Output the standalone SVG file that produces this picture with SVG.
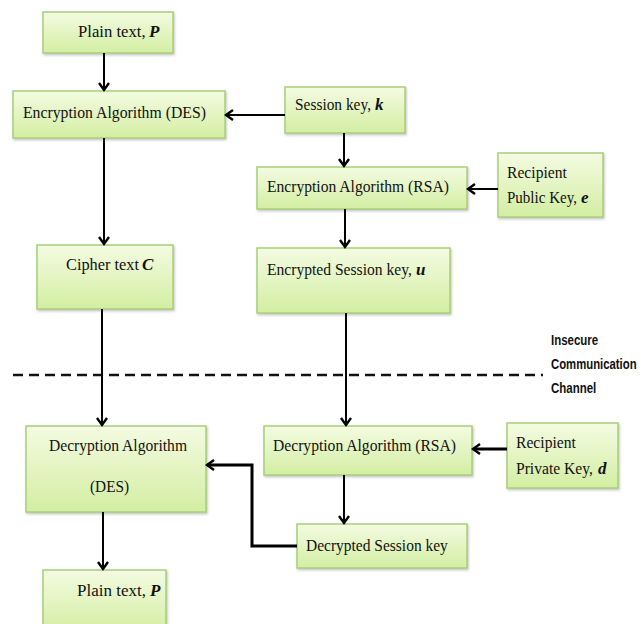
<svg xmlns="http://www.w3.org/2000/svg" width="641" height="624" viewBox="0 0 641 624">
<defs>
<linearGradient id="g" x1="0" y1="0" x2="0" y2="1">
<stop offset="0" stop-color="#f4fbe2"/>
<stop offset="1" stop-color="#d3eea2"/>
</linearGradient>
<filter id="sh" x="-5%" y="-5%" width="115%" height="120%">
<feDropShadow dx="1" dy="1.5" stdDeviation="0.8" flood-color="#888" flood-opacity="0.5"/>
</filter>
<marker id="ah" markerUnits="userSpaceOnUse" markerWidth="14" markerHeight="14" refX="9" refY="6" orient="auto">
<path d="M2,1 L9,6 L2,11" fill="none" stroke="#000" stroke-width="2.4"/>
</marker>
</defs>
<style>
rect.box{fill:url(#g);stroke:#a8cf78;stroke-width:1.5;filter:url(#sh)}
text{font-family:"Liberation Serif","Times New Roman",serif;font-size:17px;fill:#111}
.v{font-style:italic;font-weight:bold}
.lab{font-family:"Liberation Sans",Arial,sans-serif;font-weight:bold;font-size:14px;fill:#111}
.c{fill:none;stroke:#000;stroke-width:2;marker-end:url(#ah)}
.t{stroke-width:3}
</style>
<rect width="641" height="624" fill="#fff"/>
<g id="nodes">
<g id="plain1"><rect class="box" x="43" y="12" width="130" height="41"/><text transform="translate(78,37) scale(0.98,1)">Plain text,</text><text class="v" x="149" y="37">P</text></g>
<g id="encDES"><rect class="box" x="13" y="91" width="212" height="47"/><text transform="translate(23,118) scale(0.928,1)">Encryption Algorithm (DES)</text></g>
<g id="cipher"><rect class="box" x="37" y="245" width="136" height="64"/><text transform="translate(66,270) scale(0.96,1)">Cipher text</text><text class="v" x="142" y="270">C</text></g>
<g id="session"><rect class="box" x="285" y="87" width="120" height="46"/><text transform="translate(295,110) scale(0.906,1)">Session key,</text><text class="v" x="375" y="110">k</text></g>
<g id="encRSA"><rect class="box" x="257" y="167" width="210" height="42"/><text transform="translate(267,192) scale(0.918,1)">Encryption Algorithm (RSA)</text></g>
<g id="pubkey"><rect class="box" x="498" y="153" width="105" height="64"/><text transform="translate(507,178) scale(0.92,1)">Recipient</text><text transform="translate(507,203) scale(0.884,1)">Public Key,</text><text class="v" x="581" y="203">e</text></g>
<g id="encsess"><rect class="box" x="257" y="248" width="193" height="65"/><text transform="translate(267,275) scale(0.918,1)">Encrypted Session key,</text><text class="v" x="416" y="275">u</text></g>
<g id="decDES"><rect class="box" x="26" y="426" width="180" height="86"/><text transform="translate(49,451) scale(0.917,1)">Decryption Algorithm</text><text transform="translate(90,492) scale(0.9,1)">(DES)</text></g>
<g id="decRSA"><rect class="box" x="264" y="426" width="208" height="49"/><text transform="translate(273,451) scale(0.919,1)">Decryption Algorithm (RSA)</text></g>
<g id="privkey"><rect class="box" x="507" y="423" width="111" height="65"/><text transform="translate(516,448) scale(0.92,1)">Recipient</text><text transform="translate(516,474) scale(0.918,1)">Private Key,</text><text class="v" x="598" y="474">d</text></g>
<g id="decsess"><rect class="box" x="297" y="524" width="170" height="44"/><text transform="translate(306,551) scale(0.911,1)">Decrypted Session key</text></g>
<g id="plain2"><rect class="box" x="43" y="570" width="123" height="62"/><text transform="translate(77,596)">Plain text,</text><text class="v" x="150" y="596">P</text></g>
</g>
<g id="channel">
<line x1="13" y1="375" x2="543" y2="375" stroke="#111" stroke-width="2.5" stroke-dasharray="10,6"/>
<text class="lab" transform="translate(551,345) scale(0.82,1)">Insecure</text>
<text class="lab" transform="translate(551,369) scale(0.81,1)">Communication</text>
<text class="lab" transform="translate(551,393) scale(0.82,1)">Channel</text>
</g>
<g id="connectors">
<line class="c" x1="104" y1="53" x2="104" y2="90"/>
<line class="c" x1="104" y1="138" x2="104" y2="244"/>
<line class="c" x1="285" y1="115" x2="226" y2="115"/>
<line class="c" x1="344" y1="133" x2="344" y2="166"/>
<line class="c" x1="498" y1="189" x2="468" y2="189"/>
<line class="c" x1="345" y1="209" x2="345" y2="247"/>
<line class="c" x1="102" y1="309" x2="102" y2="425"/>
<line class="c" x1="346" y1="313" x2="346" y2="425"/>
<line class="c t" x1="507" y1="449" x2="473" y2="449"/>
<line class="c" x1="344" y1="475" x2="344" y2="523"/>
<polyline class="c t" points="297,546 252,546 252,465 207,465"/>
<line class="c" x1="103" y1="512" x2="103" y2="569"/>
</g>
</svg>
